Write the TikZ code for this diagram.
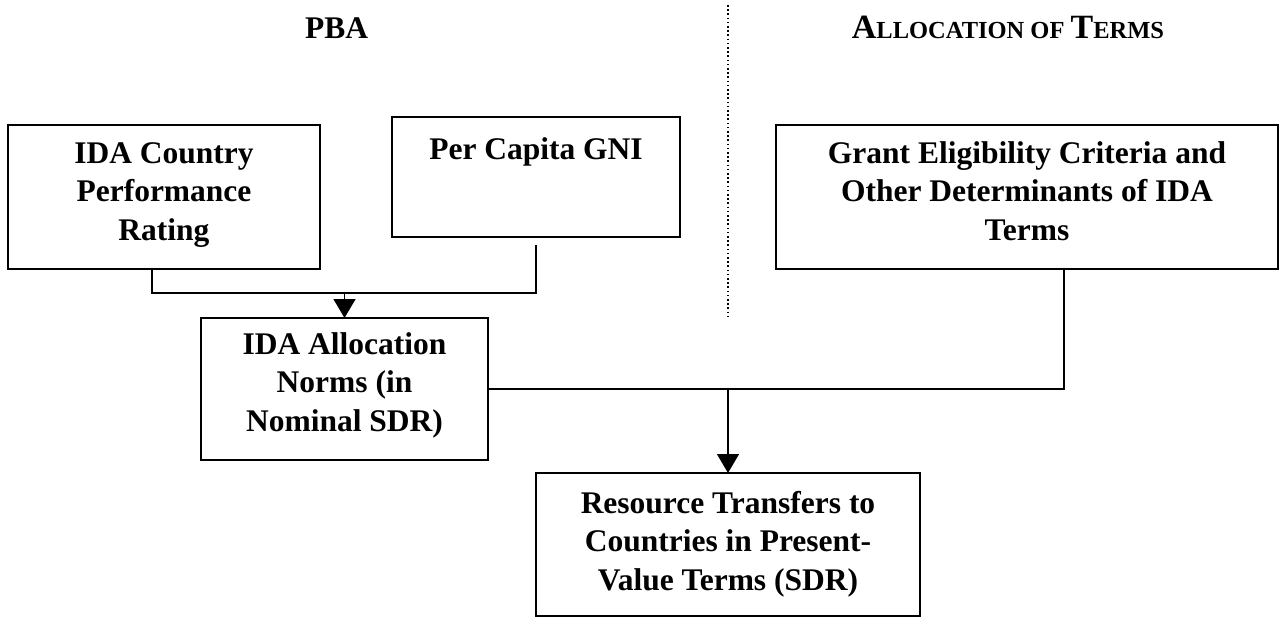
\documentclass[tikz,border=0pt]{standalone}
\usepackage{fontspec}
\setmainfont{Liberation Serif}
\usetikzlibrary{arrows.meta}
\tikzset{
  box/.style={draw, line width=1.5pt, inner sep=0pt, outer sep=0pt},
  conn/.style={line width=1.5pt},
  arr/.style={conn, -{Triangle[length=19pt,width=22pt]}},
  sepline/.style={line width=1.6pt, dash pattern=on 1.6pt off 2.6pt},
  title/.style={anchor=base, inner sep=0pt, outer sep=0pt, font=\bfseries\fontsize{31.5}{38}\selectfont},
}
\newcommand{\boxtext}[4]{\parbox[c][#2pt][t]{#1pt}{\centering\bfseries\fontsize{31.5}{38.5}\selectfont\rule{0pt}{#3pt}#4}}
\begin{document}
\begin{tikzpicture}[x=1pt,y=-1pt]
\fill[white] (0,0) rectangle (1279,618);
\useasboundingbox (0,0) rectangle (1279,618);

% titles
\node[title] (pba) at (336.5,38) {PBA};
\node[title] (aot) at (1008,39) {\fontsize{34}{40}\selectfont A\fontsize{24.5}{30}\selectfont LLOCATION OF \fontsize{34}{40}\selectfont T\fontsize{24.5}{30}\selectfont ERMS};

% separator
\coordinate (s1) at (728,5);
\coordinate (s2) at (728,318);
\draw[sepline] (s1) -- (s2);

% boxes
\node[box] (b1) at (164,197) {\boxtext{312}{144}{38}{IDA Country\\Performance\\Rating}};
\node[box] (b2) at (536,177) {\boxtext{288}{120}{42}{Per Capita GNI}};
\node[box] (b3) at (1027,197) {\boxtext{502}{144}{38}{Grant Eligibility Criteria and\\Other Determinants of IDA\\Terms}};
\node[box] (b4) at (344.5,389) {\boxtext{287}{142}{36}{IDA Allocation\\Norms (in\\Nominal SDR)}};
\node[box] (b5) at (728,544.5) {\boxtext{384}{143}{40}{Resource Transfers to\\Countries in Present-\\Value Terms (SDR)}};

% connectors
\coordinate (j1) at (344.5,293);
\draw[conn] ([xshift=-12pt]b1.south) |- (j1) -| ([yshift=-8pt]b2.south);
\draw[arr] (j1) -- (b4.north);

\coordinate (j2) at (728,389);
\draw[conn] (b4.east) -| ([xshift=37pt]b3.south);
\draw[arr] (j2) -- (b5.north);
\end{tikzpicture}
\end{document}
